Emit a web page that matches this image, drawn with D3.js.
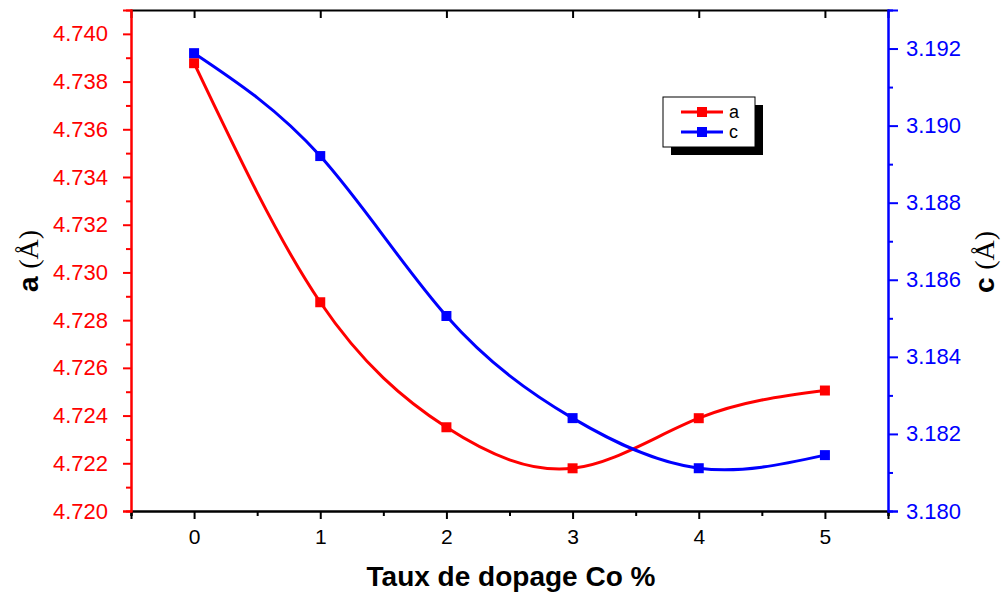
<!DOCTYPE html>
<html>
<head>
<meta charset="utf-8">
<script src="https://cdn.jsdelivr.net/npm/d3@7"></script>
<style>
  body { margin: 0; background: #fff; }
  svg { font-family: "Liberation Sans", Arial, sans-serif; }
</style>
</head>
<body>
<svg id="chart" width="1007" height="593"></svg>
<script>
const dopage = [0, 1, 2, 3, 4, 5];
const aValues = [4.73877, 4.72875, 4.72351, 4.72179, 4.72389, 4.72505];
const cValues = [3.19188, 3.18921, 3.18506, 3.18241, 3.18111, 3.18145];
const aTicks = [4.720, 4.722, 4.724, 4.726, 4.728, 4.730, 4.732, 4.734, 4.736, 4.738, 4.740];
const cTicks = [3.180, 3.182, 3.184, 3.186, 3.188, 3.190, 3.192];
const xTicks = [0, 1, 2, 3, 4, 5];

const red = "#ff0000";
const blue = "#0000ff";

const margin = { left: 131, right: 119, top: 10, bottom: 82 };
const width = 1007, height = 593;

const svg = d3.select("#chart");

const x = d3.scaleLinear().domain([-0.5, 5.5]).range([margin.left, width - margin.right]);
const yA = d3.scaleLinear().domain([4.720, 4.741]).range([height - margin.bottom, margin.top]);
const yC = d3.scaleLinear().domain([3.180, 3.193]).range([height - margin.bottom, margin.top]);

const xMinor = d3.range(-0.5, 5.51, 1);
const aMinor = d3.range(4.721, 4.7405, 0.002);
const cMinor = d3.range(3.181, 3.1925, 0.002);

// bottom axis
const gx = svg.append("g").attr("transform", `translate(0,${height - margin.bottom})`);
gx.call(d3.axisBottom(x).tickValues(xTicks).tickSize(8).tickPadding(10).tickFormat(d3.format("d")));
gx.append("g").call(d3.axisBottom(x).tickValues(xMinor).tickSize(5).tickFormat(""));
gx.selectAll(".domain").attr("stroke", "#000").attr("stroke-width", 2);
gx.selectAll(".tick line").attr("stroke", "#000").attr("stroke-width", 2);
gx.attr("font-size", 21);
gx.selectAll("text").attr("font-size", 21).attr("fill", "#000");

// top axis
const gt = svg.append("g").attr("transform", `translate(0,${margin.top})`);
gt.call(d3.axisBottom(x).tickValues(xTicks).tickSize(8).tickFormat(""));
gt.selectAll(".domain").attr("stroke", "#000").attr("stroke-width", 2);
gt.selectAll(".tick line").attr("stroke", "#000").attr("stroke-width", 2);

// left axis
const gl = svg.append("g").attr("transform", `translate(${margin.left},0)`);
gl.call(d3.axisLeft(yA).tickValues(aTicks).tickSize(8).tickPadding(15).tickFormat(d3.format(".3f")));
gl.append("g").call(d3.axisLeft(yA).tickValues(aMinor).tickSize(5).tickFormat(""));
gl.selectAll(".domain").attr("stroke", red).attr("stroke-width", 2);
gl.selectAll(".tick line").attr("stroke", red).attr("stroke-width", 2);
gl.attr("font-size", 22);
gl.selectAll("text").attr("font-size", 22).attr("fill", red);

// right axis
const gr = svg.append("g").attr("transform", `translate(${width - margin.right},0)`);
gr.call(d3.axisRight(yC).tickValues(cTicks).tickSize(10).tickPadding(8).tickFormat(d3.format(".3f")));
gr.append("g").call(d3.axisRight(yC).tickValues(cMinor).tickSize(5).tickFormat(""));
gr.selectAll(".domain").attr("stroke", blue).attr("stroke-width", 2);
gr.selectAll(".tick line").attr("stroke", blue).attr("stroke-width", 2);
gr.attr("font-size", 22);
gr.selectAll("text").attr("font-size", 22).attr("fill", blue);

// curves
const lineA = d3.line().x((d, i) => x(dopage[i])).y(d => yA(d)).curve(d3.curveNatural);
const lineC = d3.line().x((d, i) => x(dopage[i])).y(d => yC(d)).curve(d3.curveNatural);

svg.append("path").datum(aValues).attr("d", lineA)
  .attr("fill", "none").attr("stroke", red).attr("stroke-width", 3);
svg.append("path").datum(cValues).attr("d", lineC)
  .attr("fill", "none").attr("stroke", blue).attr("stroke-width", 3);

const sq = 10;
svg.append("g").selectAll("rect").data(aValues).join("rect")
  .attr("x", (d, i) => x(dopage[i]) - sq / 2).attr("y", d => yA(d) - sq / 2)
  .attr("width", sq).attr("height", sq).attr("fill", red);
svg.append("g").selectAll("rect").data(cValues).join("rect")
  .attr("x", (d, i) => x(dopage[i]) - sq / 2).attr("y", d => yC(d) - sq / 2)
  .attr("width", sq).attr("height", sq).attr("fill", blue);

// axis titles
svg.append("text")
  .attr("x", 511).attr("y", 586)
  .attr("text-anchor", "middle").attr("font-size", 28).attr("font-weight", "bold")
  .text("Taux de dopage Co %");

const ta = svg.append("text")
  .attr("transform", "translate(38,261) rotate(-90)")
  .attr("text-anchor", "middle").attr("font-size", 28);
ta.append("tspan").attr("font-weight", "bold").text("a ");
ta.append("tspan").attr("font-family", "Liberation Serif, serif").text("(Å)");

const tc = svg.append("text")
  .attr("transform", "translate(994,262) rotate(-90)")
  .attr("text-anchor", "middle").attr("font-size", 28);
tc.append("tspan").attr("font-weight", "bold").text("c ");
tc.append("tspan").attr("font-family", "Liberation Serif, serif").text("(Å)");

// legend
const legend = svg.append("g").attr("transform", "translate(663,97)");
legend.append("rect").attr("x", 8).attr("y", 8).attr("width", 92).attr("height", 50).attr("fill", "#000");
legend.append("rect").attr("x", 0).attr("y", 0).attr("width", 92).attr("height", 50)
  .attr("fill", "#fff").attr("stroke", "#000").attr("stroke-width", 1);
const items = [{ name: "a", color: red }, { name: "c", color: blue }];
items.forEach((it, i) => {
  const gy = 15 + i * 20;
  legend.append("line").attr("x1", 18).attr("x2", 60).attr("y1", gy).attr("y2", gy)
    .attr("stroke", it.color).attr("stroke-width", 3);
  legend.append("rect").attr("x", 34).attr("y", gy - 5).attr("width", 10).attr("height", 10).attr("fill", it.color);
  legend.append("text").attr("x", 66).attr("y", gy + 6).attr("font-size", 18).text(it.name);
});
</script>
</body>
</html>
